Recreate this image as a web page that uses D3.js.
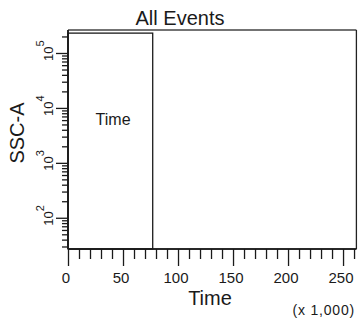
<!DOCTYPE html>
<html><head><meta charset="utf-8">
<script src="https://cdn.jsdelivr.net/npm/d3@7"></script>
<style>body{margin:0;background:#fff}svg{display:block}text{font-family:"Liberation Sans",Arial,sans-serif;fill:#1a1a1a}</style>
</head><body>
<script>
const title = "All Events";
const xTitle = "Time";
const yTitle = "SSC-A";
const xUnit = "(x 1,000)";
const xDomain = [0, 262144];
const yDomain = [27, 262144];
const xMajorTicks = [0, 50000, 100000, 150000, 200000, 250000];
const xMinorTicks = [10000,20000,30000,40000,60000,70000,80000,90000,110000,120000,130000,140000,160000,170000,180000,190000,210000,220000,230000,240000,260000];
const yMajorTicks = [100, 1000, 10000, 100000];
const yMajorExp = [2, 3, 4, 5];
const yMinorTicks = [30,40,50,60,70,80,90,200,300,400,500,600,700,800,900,2000,3000,4000,5000,6000,7000,8000,9000,20000,30000,40000,50000,60000,70000,80000,90000,200000];
const gateX = [0, 77000];
const gateY = [27, 230000];
const gateName = "Time";
const gateLabelX = [41000];
const gateLabelY = [6300];

const W = 359, H = 320;
const svg = d3.select("body").append("svg").attr("width", W).attr("height", H);
const x = d3.scaleLinear().domain(xDomain).range([68, 356.4]);
const y = d3.scaleLog().domain(yDomain).range([249, 30]);

// gate
svg.append("rect")
  .attr("x", x(gateX[0])).attr("y", y(gateY[1]))
  .attr("width", x(gateX[1]) - x(gateX[0])).attr("height", y(gateY[0]) - y(gateY[1]))
  .attr("fill", "none").attr("stroke", "#1a1a1a").attr("stroke-width", 1.3);
svg.append("text").attr("x", x(gateLabelX[0])).attr("y", y(gateLabelY[0]) + 6)
  .attr("text-anchor", "middle").style("font-size", "16px").text(gateName);

// frame top & right
svg.append("line").attr("x1", x(xDomain[0])).attr("x2", x(xDomain[1])).attr("y1", y(yDomain[1])).attr("y2", y(yDomain[1]))
  .attr("stroke", "#444").attr("stroke-width", 1.3);
svg.append("line").attr("x1", x(xDomain[1])).attr("x2", x(xDomain[1])).attr("y1", y(yDomain[1])).attr("y2", y(yDomain[0]))
  .attr("stroke", "#222").attr("stroke-width", 1.3);

// x axis
const gxMinor = svg.append("g").attr("transform", `translate(0,${y(yDomain[0])})`)
  .call(d3.axisBottom(x).tickValues(xMinorTicks).tickSize(10).tickFormat(""));
const gxMajor = svg.append("g").attr("transform", `translate(0,${y(yDomain[0])})`)
  .call(d3.axisBottom(x).tickValues(xMajorTicks).tickSize(17).tickPadding(2).tickFormat(d => d / 1000));
[gxMinor, gxMajor].forEach(g => {
  g.select(".domain").attr("stroke", "#1a1a1a").attr("stroke-width", 1.5).attr("d", `M${x(xDomain[0])},0H${x(xDomain[1])}`);
  g.selectAll(".tick line").attr("stroke", "#1a1a1a").attr("stroke-width", 1.3);
});
gxMajor.selectAll(".tick text").attr("dx", -2.5).attr("y", 23).attr("dy", "0.71em")
  .style("font-size", "15px").style("font-family", "'Liberation Sans',Arial,sans-serif").attr("fill", "#111");

// y axis
const gyMinor = svg.append("g").attr("transform", `translate(${x(xDomain[0])},0)`)
  .call(d3.axisLeft(y).tickValues(yMinorTicks).tickSize(6).tickFormat(""));
const gyMajor = svg.append("g").attr("transform", `translate(${x(xDomain[0])},0)`)
  .call(d3.axisLeft(y).tickValues(yMajorTicks).tickSize(12).tickFormat(""));
[gyMinor, gyMajor].forEach(g => {
  g.select(".domain").attr("stroke", "#1a1a1a").attr("stroke-width", 1.5).attr("d", `M0,${y(yDomain[0])}V${y(yDomain[1])}`);
  g.selectAll(".tick line").attr("stroke", "#1a1a1a").attr("stroke-width", 1.3);
});
const yl = svg.append("g").selectAll("text").data(yMajorTicks).join("text")
  .attr("transform", d => `translate(53,${y(d) + 8}) rotate(-90)`)
  .style("font-size", "13px");
yl.append("tspan").text("10");
yl.append("tspan").attr("dy", -9).style("font-size", "11px").text((d, i) => yMajorExp[i]);

// titles
svg.append("text").attr("x", 180).attr("y", 25).attr("text-anchor", "middle")
  .style("font-size", "20px").attr("fill", "#333").text(title);
svg.append("text").attr("x", 210).attr("y", 305).attr("text-anchor", "middle")
  .style("font-size", "20px").text(xTitle);
svg.append("text").attr("x", 355).attr("y", 315).attr("text-anchor", "end")
  .style("font-size", "14px").style("letter-spacing", "0.8px").text(xUnit);
svg.append("text").attr("transform", "translate(24,133) rotate(-90)").attr("text-anchor", "middle")
  .style("font-size", "20px").text(yTitle);
</script>
</body></html>
